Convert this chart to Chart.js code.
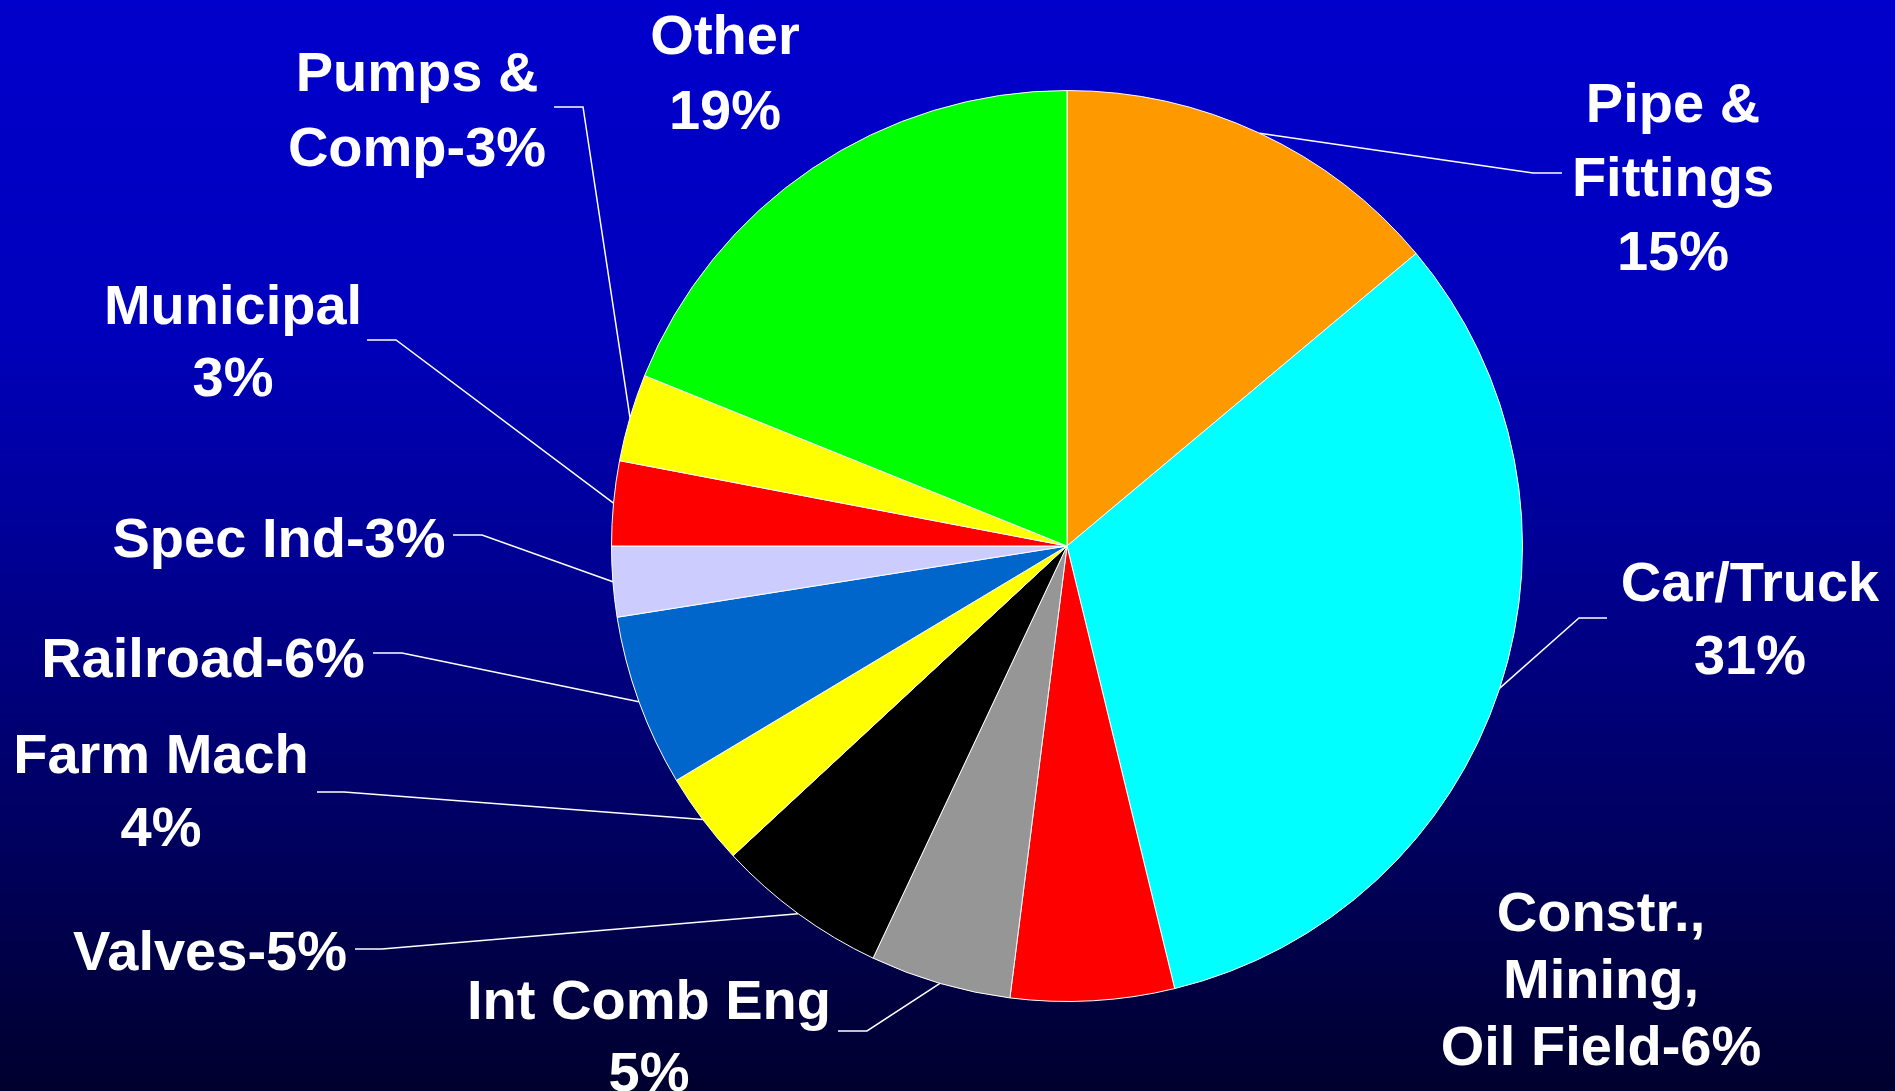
<!DOCTYPE html>
<html>
<head>
<meta charset="utf-8">
<script src="https://cdn.jsdelivr.net/npm/chart.js@4.4.1/dist/chart.umd.min.js"></script>
<style>
  html, body { margin: 0; padding: 0; background: #000066; }
  #wrap { width: 1895px; height: 1091px; position: relative; }
</style>
</head>
<body>
<div id="wrap"><canvas id="chart"></canvas></div>
<script>
// slice names, clockwise from 12 o'clock
const categories = [
  "Pipe & Fittings", "Car/Truck", "Constr., Mining, Oil Field", "Int Comb Eng",
  "Valves", "Farm Mach", "Railroad", "Spec Ind", "Municipal", "Pumps & Comp", "Other"
]
// shares
const shares = [13.9, 32.3, 5.8, 5.0, 6.1, 3.3, 6.1, 2.5, 3.0, 3.1, 18.9]
// label text as printed on the slide
const labelLines = [
  ["Pipe &", "Fittings", "15%"],
  ["Car/Truck", "31%"],
  ["Constr.,", "Mining,", "Oil Field-6%"],
  ["Int Comb Eng", "5%"],
  ["Valves-5%"],
  ["Farm Mach", "4%"],
  ["Railroad-6%"],
  ["Spec Ind-3%"],
  ["Municipal", "3%"],
  ["Pumps &", "Comp-3%"],
  ["Other", "19%"]
]
const sliceColors = [
  "#FF9900", "#00FFFF", "#FF0000", "#969696", "#000000", "#FFFF00",
  "#0066CC", "#CCCCFF", "#FF0000", "#FFFF00", "#00FF00"
]

// label placement: centre x, first baseline, line gap; leader elbow + end
const labelLayout = [
  { x: 1673, y: 122, gap: 74, lead: [1533, 173, 1562] },
  { x: 1750, y: 601, gap: 73, lead: [1579, 618, 1607] },
  { x: 1601, y: 931, gap: 67, lead: null },
  { x: 649, y: 1019, gap: 72, lead: [867, 1031, 838] },
  { x: 210, y: 970, gap: 0, lead: [382, 949, 355] },
  { x: 161, y: 773, gap: 73, lead: [344, 792, 317] },
  { x: 203, y: 677, gap: 0, lead: [402, 653, 373] },
  { x: 279, y: 557, gap: 0, lead: [482, 535, 453] },
  { x: 233, y: 324, gap: 72, lead: [396, 340, 367] },
  { x: 417, y: 91, gap: 75, lead: [583, 107, 554] },
  { x: 725, y: 54, gap: 75, lead: null }
]

const backdrop = {
  id: "backdrop",
  beforeDraw(chart) {
    const { ctx, width, height } = chart
    const g = ctx.createLinearGradient(0, 0, 0, height)
    g.addColorStop(0, "#0000CC")
    g.addColorStop(0.3, "#0000BC")
    g.addColorStop(0.5, "#000096")
    g.addColorStop(1, "#00002E")
    ctx.save()
    ctx.fillStyle = g
    ctx.fillRect(0, 0, width, height)
    ctx.restore()
  }
}

const sliceLabels = {
  id: "sliceLabels",
  afterDraw(chart) {
    const { ctx } = chart
    const arcs = chart.getDatasetMeta(0).data
    ctx.save()
    ctx.strokeStyle = "#FFFFFF"
    ctx.lineWidth = 1.5
    arcs.forEach((arc, i) => {
      const lay = labelLayout[i]
      if (!lay.lead) return
      const mid = (arc.startAngle + arc.endAngle) / 2
      const px = arc.x + Math.cos(mid) * arc.outerRadius
      const py = arc.y + Math.sin(mid) * arc.outerRadius
      ctx.beginPath()
      ctx.moveTo(px, py)
      ctx.lineTo(lay.lead[0], lay.lead[1])
      ctx.lineTo(lay.lead[2], lay.lead[1])
      ctx.stroke()
    })
    ctx.fillStyle = "#FFFFFF"
    ctx.font = "bold 56px 'Liberation Sans', Arial, sans-serif"
    ctx.textAlign = "center"
    ctx.textBaseline = "alphabetic"
    labelLines.forEach((lines, i) => {
      const lay = labelLayout[i]
      lines.forEach((t, j) => ctx.fillText(t, lay.x, lay.y + j * lay.gap))
    })
    ctx.restore()
  }
}

const ctx = document.getElementById("chart").getContext("2d")
new Chart(ctx, {
  type: "pie",
  data: {
    labels: categories,
    datasets: [
      {
        data: shares,
        backgroundColor: sliceColors,
        borderColor: "#FFFFFF",
        borderWidth: 1
      }
    ]
  },
  options: {
    responsive: true,
    maintainAspectRatio: false,
    animation: false,
    layout: { padding: { left: 611, right: 372, top: 90, bottom: 89 } },
    plugins: {
      legend: { display: false },
      tooltip: { enabled: false }
    }
  },
  plugins: [backdrop, sliceLabels]
})
</script>
</body>
</html>
